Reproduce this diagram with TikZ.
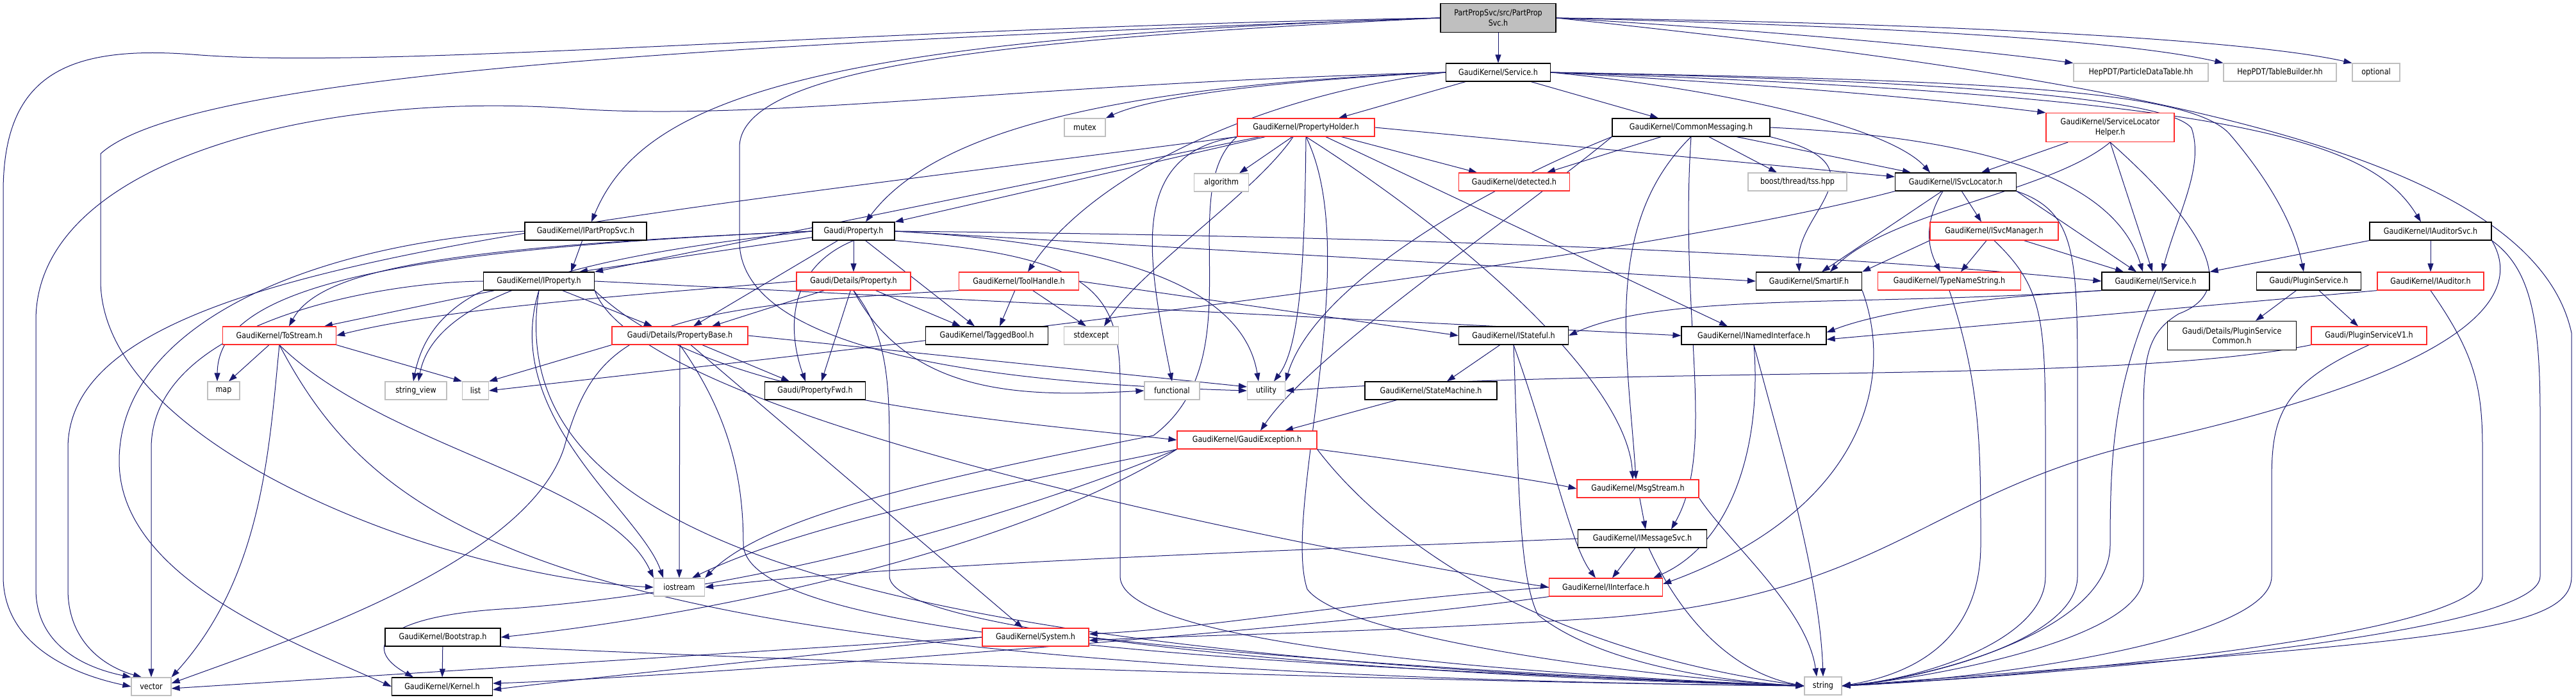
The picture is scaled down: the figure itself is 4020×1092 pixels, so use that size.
\documentclass[tikz,border=0pt]{standalone}
\usepackage{fontspec}
\setmainfont{DejaVu Sans}[FakeStretch=0.86]
\usetikzlibrary{arrows.meta,backgrounds}
\definecolor{edgeblue}{HTML}{191970}
\definecolor{extgray}{HTML}{BFBFBF}
\definecolor{truncred}{HTML}{FF2A2A}

\begin{document}
\begin{tikzpicture}[x=1pt,y=-1pt,
    file/.style={draw=black,fill=white,line width=1.2pt,inner sep=0pt,
        minimum height=28,font={\fontsize{13}{15.5}\selectfont}},
    trunc/.style={file,draw=truncred},
    ext/.style={file,draw=extgray},
    inc/.style={draw=edgeblue,line width=1pt,
        -{Triangle[length=13pt,width=9pt]}},
    ]
    \useasboundingbox (0,0) rectangle (4020,1092);
    % Top file and its first level
    \node[file,fill=extgray,minimum width=180,minimum height=45,align=center] (pps) at (2338,28) {PartPropSvc/src/PartProp\\Svc.h};
    \node[file,minimum width=163] (svc) at (2338,113) {GaudiKernel/Service.h};
    \node[ext,minimum width=210] (hpdt) at (3341,113) {HepPDT/ParticleDataTable.hh};
    \node[ext,minimum width=176] (htb) at (3558,113) {HepPDT/TableBuilder.hh};
    \node[ext,minimum width=74] (opt) at (3708,113) {optional};
    \node[file,minimum width=190] (ipps) at (914,361) {GaudiKernel/IPartPropSvc.h};
    % Headers of Service.h
    \node[ext,minimum width=64] (mutex) at (1693,199) {mutex};
    \node[trunc,minimum width=214] (pholder) at (2038,199) {GaudiKernel/PropertyHolder.h};
    \node[file,minimum width=246] (cmsg) at (2639,199) {GaudiKernel/CommonMessaging.h};
    \node[trunc,minimum width=200,minimum height=45,align=center] (slh) at (3293,199) {GaudiKernel/ServiceLocator\\Helper.h};
    \node[ext,minimum width=85] (alg) at (1906,285) {algorithm};
    \node[trunc,minimum width=173] (det) at (2363,284) {GaudiKernel/detected.h};
    \node[ext,minimum width=154] (tss) at (2805,284) {boost/thread/tss.hpp};
    \node[file,minimum width=189] (isl) at (3052,284) {GaudiKernel/ISvcLocator.h};
    \node[file,minimum width=128] (prop) at (1332,361) {Gaudi/Property.h};
    \node[trunc,minimum width=200] (ism) at (3112,361) {GaudiKernel/ISvcManager.h};
    \node[file,minimum width=190] (ias) at (3793,361) {GaudiKernel/IAuditorSvc.h};
    % Middle rows
    \node[file,minimum width=173] (ipr) at (841,439) {GaudiKernel/IProperty.h};
    \node[trunc,minimum width=178] (dprop) at (1332,439) {Gaudi/Details/Property.h};
    \node[trunc,minimum width=187] (th) at (1590,439) {GaudiKernel/ToolHandle.h};
    \node[file,minimum width=165] (sif) at (2823,439) {GaudiKernel/SmartIF.h};
    \node[trunc,minimum width=223] (tns) at (3042,439) {GaudiKernel/TypeNameString.h};
    \node[file,minimum width=168] (isv) at (3364,439) {GaudiKernel/IService.h};
    \node[file,minimum width=163] (plg) at (3603,439) {Gaudi/PluginService.h};
    \node[trunc,minimum width=166] (iaud) at (3793,439) {GaudiKernel/IAuditor.h};
    \node[trunc,minimum width=177] (ts) at (436,524) {GaudiKernel/ToStream.h};
    \node[trunc,minimum width=212] (pbase) at (1061,524) {Gaudi/Details/PropertyBase.h};
    \node[file,minimum width=191] (tb) at (1540,524) {GaudiKernel/TaggedBool.h};
    \node[ext,minimum width=85] (stdx) at (1703,524) {stdexcept};
    \node[file,minimum width=171] (ist) at (2362,524) {GaudiKernel/IStateful.h};
    \node[file,minimum width=226] (ini) at (2737,524) {GaudiKernel/INamedInterface.h};
    \node[file,minimum width=201,minimum height=45,align=center] (psc) at (3483,524) {Gaudi/Details/PluginService\\Common.h};
    \node[trunc,minimum width=180] (psv1) at (3697,524) {Gaudi/PluginServiceV1.h};
    \node[ext,minimum width=50] (map) at (349,610) {map};
    \node[ext,minimum width=96] (sv) at (649,610) {string\_view};
    \node[ext,minimum width=41] (list) at (742,610) {list};
    \node[file,minimum width=157] (pfwd) at (1272,610) {Gaudi/PropertyFwd.h};
    \node[ext,minimum width=86] (func) at (1829,610) {functional};
    \node[ext,minimum width=59] (util) at (1976,610) {utility};
    \node[file,minimum width=206] (sm) at (2233,610) {GaudiKernel/StateMachine.h};
    % Lower rows
    \node[trunc,minimum width=218] (gex) at (1946,687) {GaudiKernel/GaudiException.h};
    \node[trunc,minimum width=190] (ms) at (2556,763) {GaudiKernel/MsgStream.h};
    \node[file,minimum width=201] (imsg) at (2563,841) {GaudiKernel/IMessageSvc.h};
    \node[ext,minimum width=79] (iost) at (1060,917) {iostream};
    \node[trunc,minimum width=177] (iif) at (2506,917) {GaudiKernel/IInterface.h};
    \node[file,minimum width=180] (boot) at (691,995) {GaudiKernel/Bootstrap.h};
    \node[trunc,minimum width=166] (sys) at (1616,995) {GaudiKernel/System.h};
    \node[ext,minimum width=62] (vec) at (236,1072) {vector};
    \node[file,minimum width=157] (ker) at (690,1072) {GaudiKernel/Kernel.h};
    \node[ext,minimum width=58] (str) at (2845,1071) {string};

    \begin{scope}[on background layer]
    % PartPropSvc.h
    \draw[inc] (pps) -- (svc);
    \draw[inc] (pps.west) .. controls (1250,60) and (1000,160) .. ([xshift=9pt]ipps.north);
    \draw[inc] (pps.east) .. controls (2800,50) and (3100,80) .. (hpdt.north west);
    \draw[inc] (pps.east) .. controls (2900,40) and (3300,60) .. (htb.north west);
    \draw[inc] (pps.east) .. controls (3000,35) and (3500,60) .. (opt.north west);
    \draw[inc] (pps.west) .. controls (1300,45) and (600,110) .. (300,85)
        .. controls (100,70) and (5,120) .. (5,300) -- (5,900)
        .. controls (5,1000) and (100,1050) .. (vec.west);
    \draw[inc] (pps.west) .. controls (1200,65) and (300,110) .. (157,240) -- (157,440)
        .. controls (160,700) and (700,900) .. (iost.west);
    \draw[inc] (pps.west) .. controls (1600,60) and (1154,100) .. (1154,230) -- (1154,380)
        .. controls (1160,560) and (1600,600) .. (util.west);
    \draw[inc] (pps.east) .. controls (3300,120) and (3950,230) .. (4013,520) -- (4013,900)
        .. controls (4013,990) and (3800,1000) .. (str.east);
    % Service.h
    \draw[inc] (svc) -- (pholder);
    \draw[inc] (svc) -- (cmsg);
    \draw[inc] (svc.west) .. controls (2000,125) and (1800,150) .. (mutex.north east);
    \draw[inc] (svc.west) .. controls (1700,135) and (1450,215) .. ([xshift=19pt]prop.north);
    \draw[inc] (svc.west) .. controls (1950,150) and (1700,280) .. ([xshift=14pt]th.north);
    \draw[inc] (svc.west) .. controls (1600,130) and (1200,190) .. (900,170)
        .. controls (500,140) and (56,250) .. (56,500) -- (56,920)
        .. controls (56,1000) and (120,1040) .. (vec.north west);
    \draw[inc] (svc.east) .. controls (2700,140) and (2950,200) .. ([xshift=-40pt]isl.north);
    \draw[inc] (svc.east) .. controls (2900,140) and (3100,165) .. (slh.north west);
    \draw[inc] (svc.east) .. controls (3000,125) and (3380,150) .. (3420,200)
        .. controls (3440,260) and (3400,330) .. ([xshift=10pt]isv.north);
    \draw[inc] (svc.east) .. controls (3500,150) and (3700,220) .. ([xshift=-15pt]ias.north);
    \draw[inc] (svc.east) .. controls (3100,125) and (3420,140) .. (3480,210)
        .. controls (3540,280) and (3580,350) .. ([xshift=-8pt]plg.north);
    % PropertyHolder.h
    \draw[inc] (pholder) -- (prop.north east);
    \draw[inc] (pholder) -- (ipr.north east);
    \draw[inc] (pholder.south west) .. controls (800,360) and (106,420) .. (106,700) -- (106,920)
        .. controls (106,1000) and (160,1040) .. ([xshift=-15pt]vec.north);
    \draw[inc] (pholder) -- ([xshift=28pt]alg.north);
    \draw[inc] (pholder) -- ([xshift=-58pt]det.north);
    \draw[inc] (pholder.east) -- ([yshift=8pt]isl.west);
    \draw[inc] (pholder.south west) .. controls (1760,240) and (1790,400) .. (func.north);
    \draw[inc] ([xshift=-20pt]pholder.south) .. controls (1960,300) and (1780,420) .. ([xshift=20pt]stdx.north);
    \draw[inc] (pholder.south) .. controls (2036,400) and (2030,540) .. ([xshift=12pt]util.north);
    \draw[inc] (pholder.south) .. controls (2130,400) and (2000,800) .. (2040,920)
        .. controls (2100,1000) and (2600,1060) .. (str.west);
    \draw[inc] (pholder.south) .. controls (2300,380) and (2540,600) .. ([xshift=-8pt]ms.north);
    \draw[inc] (pholder) -- ([xshift=-41pt]ini.north);
    \draw[inc] (pholder.south west) .. controls (1830,300) and (1960,560) .. (1800,680)
        .. controls (1500,740) and (1200,800) .. (iost.north east);
    % CommonMessaging.h
    \draw[inc] (cmsg) -- ([xshift=51pt]det.north);
    \draw[inc] (cmsg) -- ([xshift=-32pt]tss.north);
    \draw[inc] (cmsg) -- ([xshift=-70pt]isl.north);
    \draw[inc] (cmsg.south east) .. controls (2950,260) and (2800,330) .. ([xshift=-15pt]sif.north);
    \draw[inc] (cmsg.south west) .. controls (2300,300) and (2050,450) .. (util.north east);
    \draw[inc] (cmsg.south west) .. controls (2350,350) and (2050,550) .. ([xshift=21pt]gex.north);
    \draw[inc] (cmsg.south) .. controls (2500,350) and (2540,550) .. ([xshift=-3pt]ms.north);
    \draw[inc] (cmsg.south) .. controls (2620,500) and (2680,700) .. ([xshift=45pt]imsg.north);
    \draw[inc] (cmsg.east) .. controls (3100,215) and (3300,280) .. ([xshift=-20pt]isv.north);
    % Gaudi/Property.h
    \draw[inc] (prop) -- (dprop);
    \draw[inc] (prop) -- ([xshift=21pt]pbase.north);
    \draw[inc] (prop.south) .. controls (1225,420) and (1230,520) .. ([xshift=-15pt]pfwd.north);
    \draw[inc] (prop) -- ([xshift=-19pt]tb.north);
    \draw[inc] (prop.east) .. controls (1750,380) and (1940,450) .. ([xshift=-12pt]util.north);
    \draw[inc] (prop.south east) .. controls (1700,400) and (1748,450) .. (1748,600) -- (1748,900)
        .. controls (1748,1000) and (2300,1050) .. (str.west);
    \draw[inc] (prop.east) -- (sif.west);
    \draw[inc] (prop.east) .. controls (2300,370) and (2900,400) .. (isv.west);
    \draw[inc] (prop) -- ([xshift=63pt]ipr.north);
    \draw[inc] (prop.west) .. controls (700,385) and (500,420) .. ([xshift=15pt]ts.north);
    \draw[inc] (prop.west) .. controls (600,390) and (340,450) .. ([xshift=-10pt]map.north);
    \draw[inc] (prop.west) .. controls (950,395) and (680,450) .. ([xshift=4pt]sv.north);
    % IPartPropSvc.h
    \draw[inc] (ipps) -- ([xshift=50pt]ipr.north);
    \draw[inc] (ipps.west) .. controls (500,380) and (186,500) .. (186,720)
        .. controls (186,900) and (450,1000) .. (ker.west);
    % Gaudi/Details/Property.h
    \draw[inc] (dprop) -- ([xshift=50pt]pbase.north);
    \draw[inc] (dprop) -- ([xshift=10pt]pfwd.north);
    \draw[inc] (dprop) -- ([xshift=-41pt]tb.north);
    \draw[inc] (dprop.south) .. controls (1385,520) and (1388,600) .. (1388,700) -- (1388,900)
        .. controls (1390,980) and (2000,1050) .. (str.west);
    \draw[inc] (dprop.south) .. controls (1420,620) and (1600,620) .. (func.west);
    \draw[inc] (dprop.west) .. controls (1000,460) and (700,480) .. (ts.east);
    % ToolHandle.h
    \draw[inc] (th) -- ([xshift=20pt]tb.north);
    \draw[inc] (th) -- ([xshift=-8pt]stdx.north);
    \draw[inc] (th.south west) .. controls (1000,480) and (930,520) .. (880,700)
        .. controls (820,880) and (450,1000) .. ([yshift=5pt]vec.east);
    \draw[inc] (th.east) -- (ist.west);
    % IProperty.h
    \draw[inc] (ipr.east) -- (ini.west);
    \draw[inc] (ipr) -- ([xshift=70pt]ts.north);
    \draw[inc] (ipr.south west) .. controls (700,480) and (660,520) .. ([xshift=-4pt]sv.north);
    \draw[inc] (ipr.west) .. controls (600,440) and (236,500) .. (236,700) -- (vec.north);
    \draw[inc] (ipr) -- ([xshift=-43pt]pbase.north);
    \draw[inc] (ipr.south east) .. controls (1000,650) and (2000,850) .. (iif.west);
    \draw[inc] (ipr.south east) .. controls (1100,620) and (1500,650) .. (gex.west);
    \draw[inc] (ipr.south) .. controls (780,650) and (1000,800) .. ([xshift=-25pt]iost.north);
    \draw[inc] (ipr.south) .. controls (788,800) and (1200,1020) .. (str.west);
    % Gaudi/Details/PropertyBase.h
    \draw[inc] (pbase) -- ([xshift=-40pt]pfwd.north);
    \draw[inc] (pbase.south west) -- (list.north east);
    \draw[inc] (pbase.south) -- (iost.north);
    \draw[inc] (pbase.south) .. controls (1140,650) and (1160,750) .. (1160,850)
        .. controls (1165,1000) and (2000,1040) .. (str.west);
    \draw[inc] (pbase) -- ([xshift=-20pt]sys.north);
    \draw[inc] (pbase.east) -- ([yshift=6pt]util.west);
    % GaudiKernel/ToStream.h
    \draw[inc] (ts) -- ([xshift=8pt]map.north);
    \draw[inc] (ts.south east) -- (list.north west);
    \draw[inc] (ts.south) .. controls (420,700) and (410,900) .. (vec.north east);
    \draw[inc] (ts.south) .. controls (600,850) and (900,1050) .. (str.west);
    \draw[inc] (ts.south) .. controls (600,700) and (950,750) .. (iost.north west);
    % ISvcLocator.h
    \draw[inc] (isl) -- ([xshift=-20pt]ism.north);
    \draw[inc] (isl) -- ([xshift=20pt]sif.north);
    \draw[inc] ([xshift=-20pt]isl.south) .. controls (3000,350) and (3010,390) .. ([xshift=-14pt]tns.north);
    \draw[inc] (isl.south east) -- ([xshift=-30pt]isv.north);
    \draw[inc] (isl.south west) .. controls (2500,420) and (1200,560) .. (list.east);
    \draw[inc] (isl.south east) .. controls (3240,330) and (3242,400) .. (3242,600) -- (3242,900)
        .. controls (3242,1000) and (3000,1060) .. (str.east);
    % ServiceLocatorHelper.h
    \draw[inc] (slh) -- ([xshift=40pt]isl.north);
    \draw[inc] (slh.south) .. controls (3200,300) and (2950,330) .. ([xshift=33pt]sif.north);
    \draw[inc] (slh.south) -- ([xshift=-5pt]isv.north);
    \draw[inc] (slh.south) .. controls (3470,380) and (3480,460) .. (3400,490)
        .. controls (3350,520) and (3345,560) .. (3345,650) -- (3345,900)
        .. controls (3345,1000) and (3000,1060) .. (str.east);
    % ISvcManager.h
    \draw[inc] (ism) -- ([xshift=18pt]tns.north);
    \draw[inc] (ism) -- ([xshift=-50pt]isv.north);
    \draw[inc] (ism.south west) -- (sif.north east);
    \draw[inc] (ism.south) .. controls (3190,450) and (3192,500) .. (3192,700) -- (3192,900)
        .. controls (3192,1000) and (3000,1060) .. (str.east);
    % TypeNameString.h
    \draw[inc] (tns.south) .. controls (3091,600) and (3091,700) .. (3091,850)
        .. controls (3091,990) and (3000,1050) .. (str.east);
    % IService.h
    \draw[inc] (isv.south west) .. controls (3000,470) and (2900,500) .. ([yshift=5pt]ini.east);
    \draw[inc] (isv.south west) .. controls (2900,480) and (2600,455) .. (ist.east);
    \draw[inc] (isv.south) .. controls (3300,600) and (3293,700) .. (3293,850)
        .. controls (3293,990) and (3000,1060) .. (str.east);
    % IAuditorSvc.h and IAuditor.h
    \draw[inc] (ias.south west) -- (isv.north east);
    \draw[inc] (ias) -- (iaud);
    \draw[inc] (ias.south east) .. controls (3950,420) and (3964,500) .. (3964,650) -- (3964,900)
        .. controls (3964,1000) and (3100,1060) .. (str.east);
    \draw[inc] (ias.south east) .. controls (3950,480) and (3800,590) .. (3350,690)
        .. controls (3000,770) and (2950,930) .. (2500,965)
        .. controls (2100,990) and (1900,990) .. ([yshift=-5pt]sys.east);
    \draw[inc] (iaud.south west) -- ([yshift=-6pt]ini.east);
    \draw[inc] (iaud.south) .. controls (3860,550) and (3874,600) .. (3874,700) -- (3874,900)
        .. controls (3874,1000) and (3100,1060) .. (str.east);
    % Gaudi/PluginService.h
    \draw[inc] (plg) -- ([xshift=37pt]psc.north);
    \draw[inc] (plg) -- ([xshift=-17pt]psv1.north);
    \draw[inc] (psv1.south west) .. controls (3300,600) and (2600,570) .. (util.east);
    \draw[inc] (psv1.south) .. controls (3560,600) and (3545,650) .. (3545,750) -- (3545,900)
        .. controls (3545,1000) and (3100,1060) .. (str.east);
    % SmartIF.h, IStateful.h, INamedInterface.h
    \draw[inc] (sif.south east) .. controls (2960,600) and (2900,800) .. ([yshift=5pt]iif.east);
    \draw[inc] (ist) -- ([xshift=25pt]sm.north);
    \draw[inc] (ist.south) .. controls (2420,700) and (2450,850) .. ([xshift=-16pt]iif.north);
    \draw[inc] (ist.south) .. controls (2370,750) and (2370,900) .. (2400,960)
        .. controls (2500,1040) and (2700,1065) .. (str.west);
    \draw[inc] (ini.south) .. controls (2750,700) and (2700,850) .. ([xshift=-15pt]iif.north east);
    \draw[inc] (ini.south) .. controls (2780,700) and (2840,900) .. (str.north);
    \draw[inc] (sm) -- ([xshift=59pt]gex.north);
    % GaudiException.h
    \draw[inc] (gex.south east) .. controls (2200,720) and (2400,750) .. (ms.west);
    \draw[inc] (gex.south west) .. controls (1550,760) and (1250,820) .. ([xshift=20pt]iost.north);
    \draw[inc] (gex.south west) .. controls (1600,800) and (1200,920) .. (800,950)
        .. controls (600,960) and (560,1010) .. ([xshift=-45pt]ker.north);
    \draw[inc] (gex.south west) .. controls (1600,850) and (1150,955) .. (boot.east);
    \draw[inc] (gex.south east) .. controls (2100,760) and (2300,1000) .. (str.west);
    % MsgStream.h and IMessageSvc.h
    \draw[inc] (ms) -- ([xshift=5pt]imsg.north);
    \draw[inc] (ms.south east) .. controls (2700,850) and (2820,950) .. ([xshift=-10pt]str.north);
    \draw[inc] (imsg) -- ([xshift=10pt]iif.north);
    \draw[inc] ([xshift=10pt]imsg.south) .. controls (2620,960) and (2700,1050) .. (str.west);
    \draw[inc] (imsg.west) .. controls (2000,860) and (1400,880) .. (iost.east);
    % IInterface.h, System.h, Bootstrap.h
    \draw[inc] (iif.west) .. controls (2100,940) and (1900,980) .. ([yshift=5pt]sys.east);
    \draw[inc] (iif.south west) .. controls (2000,990) and (1000,1060) .. ([yshift=5pt]ker.east);
    \draw[inc] (sys.west) .. controls (1300,1020) and (900,1060) .. ([yshift=-5pt]ker.east);
    \draw[inc] (sys.west) -- ([yshift=-3pt]vec.east);
    \draw[inc] (sys.east) .. controls (2000,1030) and (2500,1060) .. (str.west);
    \draw[inc] (boot) -- (ker);
    \draw[inc] (boot.south east) .. controls (1200,1030) and (2200,1065) .. (str.west);
    \end{scope}
\end{tikzpicture}
\end{document}
